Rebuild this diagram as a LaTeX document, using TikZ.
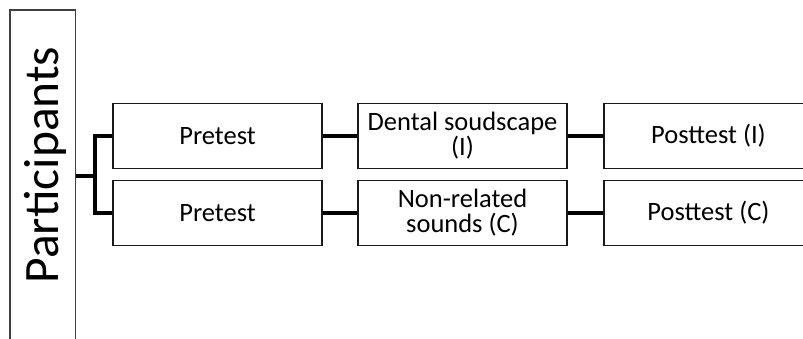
\documentclass[tikz,border=0pt]{standalone}
\usepackage{fontspec}
\setmainfont{Carlito}
\begin{document}
\begin{tikzpicture}[x=1pt,y=1pt,
  box/.style={draw=black!90,line width=1.3pt,minimum width=209pt,minimum height=65pt,inner sep=0pt,align=center,font=\fontsize{26.5}{25}\selectfont},
  link/.style={line width=3.2pt,draw=black},
  bigbox/.style={draw=black!75,line width=1.1pt,minimum width=65.5pt,minimum height=332pt,inner sep=0pt}]
\useasboundingbox (0,0) rectangle (803,338);
\clip (0,0) rectangle (803,338);
\node[bigbox] (P) at (42.75,162) {};
\node[rotate=90,anchor=base,font=\fontsize{49.5}{50}\selectfont] (Pt) at (58.3,173) {Participants};
\node[box] (pre1) at (217.5,202) {Pretest};
\node[box] (pre2) at (217.5,125) {Pretest};
\node[box] (mid1) at (462.5,202) {Dental soudscape\\(I)};
\node[box] (mid2) at (462.5,125) {Non-related\\sounds (C)};
\node[box] (post1) at (708.5,202) {Posttest (I)};
\node[box] (post2) at (708.5,125) {Posttest (C)};
\coordinate (j) at (95,162);
\draw[link] (P.east) -- (j);
\draw[link] (pre1.west) -| (j);
\draw[link] (pre2.west) -| (j);
\draw[link] (pre1) -- (mid1);
\draw[link] (pre2) -- (mid2);
\draw[link] (mid1) -- (post1);
\draw[link] (mid2) -- (post2);
\end{tikzpicture}
\end{document}
